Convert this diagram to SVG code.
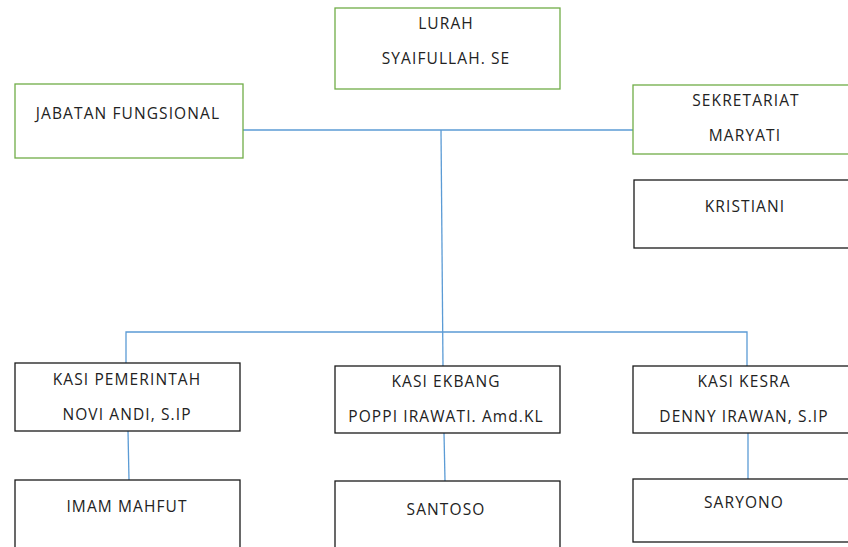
<svg xmlns="http://www.w3.org/2000/svg" width="848" height="547" viewBox="0 0 848 547">
<style>
.g{fill:#fff;stroke:#70AD47;stroke-width:1.3}
.k{fill:#fff;stroke:#1a1a1a;stroke-width:1.3}
.c{fill:none;stroke:#5B9BD5;stroke-width:1.3}
text{font-family:"Open Sans","Liberation Sans",sans-serif;font-size:15.5px;letter-spacing:1.1px;fill:#222;text-anchor:middle}
</style>
<rect width="848" height="547" fill="#fff"/>
<g id="connectors">
<path class="c" d="M243 130 L633 130"/>
<path class="c" d="M441 130 L443 366"/>
<path class="c" d="M126 363 L126 332 L747 332 L747 366"/>
<path class="c" d="M128 431 L129 480"/>
<path class="c" d="M444 433 L445 481"/>
<path class="c" d="M748 433 L748 479"/>
</g>
<g id="lurah"><rect class="g" x="335" y="8" width="225" height="81"/><text x="446" y="29">LURAH</text><text x="446" y="64">SYAIFULLAH. SE</text></g>
<g id="jabatan"><rect class="g" x="15" y="84" width="228" height="74"/><text x="128" y="119">JABATAN FUNGSIONAL</text></g>
<g id="sekretariat"><rect class="g" x="633" y="85" width="217" height="69"/><text x="746" y="106">SEKRETARIAT</text><text x="745" y="141">MARYATI</text></g>
<g id="kristiani"><rect class="k" x="634" y="180" width="216" height="68"/><text x="745" y="212">KRISTIANI</text></g>
<g id="pemerintah"><rect class="k" x="15" y="363" width="225" height="68"/><text x="127" y="385">KASI PEMERINTAH</text><text x="127" y="420">NOVI ANDI, S.IP</text></g>
<g id="ekbang"><rect class="k" x="335" y="366" width="225" height="67"/><text x="446" y="387">KASI EKBANG</text><text x="446" y="422">POPPI IRAWATI. Amd.KL</text></g>
<g id="kesra"><rect class="k" x="633" y="366" width="217" height="67"/><text x="744" y="387">KASI KESRA</text><text x="744" y="422">DENNY IRAWAN, S.IP</text></g>
<g id="imam"><rect class="k" x="15" y="480" width="225" height="80"/><text x="127" y="512">IMAM MAHFUT</text></g>
<g id="santoso"><rect class="k" x="335" y="481" width="225" height="80"/><text x="446" y="515">SANTOSO</text></g>
<g id="saryono"><rect class="k" x="633" y="479" width="217" height="63"/><text x="744" y="508">SARYONO</text></g>
</svg>
